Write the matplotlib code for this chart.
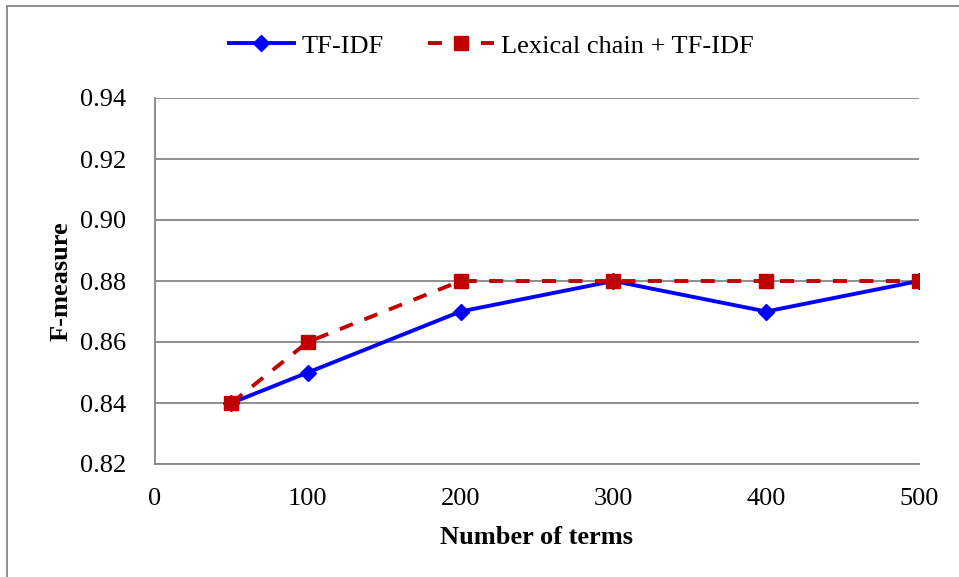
import matplotlib
matplotlib.use("Agg")
import matplotlib.pyplot as plt
from matplotlib.lines import Line2D

plt.rcParams['font.family'] = ['Liberation Serif', 'DejaVu Serif']

terms = [50, 100, 200, 300, 400, 500]
tfidf = [0.84, 0.85, 0.87, 0.88, 0.87, 0.88]
lexical = [0.84, 0.86, 0.88, 0.88, 0.88, 0.88]
xticks = [0, 100, 200, 300, 400, 500]
yticks = [0.82, 0.84, 0.86, 0.88, 0.90, 0.92, 0.94]

fig = plt.figure(figsize=(9.59, 5.77), dpi=100)
ax = fig.add_axes([155/959, 1-464/577, (919-155)/959, (464-98)/577])

grid_c = '#868686'
ax.plot(terms, tfidf, color='#0000FF', lw=2.8, marker='D', ms=8, label='TF-IDF', zorder=3)
ax.plot(terms, lexical, color='#C00000', lw=2.8, ls=(0, (3.6, 3.2)), marker='s', ms=10,
        label='Lexical chain + TF-IDF', zorder=4)

ax.set_xlim(0, 500)
ax.set_ylim(0.82, 0.94)
ax.set_xticks(xticks)
ax.set_yticks(yticks)
ax.set_xticklabels([str(v) for v in xticks])
ax.set_yticklabels([f'{v:.2f}' for v in yticks])
ax.tick_params(length=0, labelsize=19)
ax.tick_params(axis='x', pad=17)
ax.tick_params(axis='y', pad=21)
ax.grid(axis='y', color=grid_c, lw=1.3)
ax.set_axisbelow(True)
for s in ['top', 'right']:
    ax.spines[s].set_visible(False)
for s in ['left', 'bottom']:
    ax.spines[s].set_color(grid_c)
    ax.spines[s].set_linewidth(1.3)

ax.set_xlabel('Number of terms', fontsize=19, fontweight='bold', labelpad=12)
ax.set_ylabel('F-measure', fontsize=19, fontweight='bold', labelpad=5)

leg = fig.legend(loc='center', bbox_to_anchor=(0.512, 1-46/577), ncol=2, frameon=False,
                 fontsize=19, handlelength=2.5, columnspacing=1.7, handletextpad=0.25)

# outer frame
fig.add_artist(Line2D([7/959, 7/959], [0, 1-6/577], color=grid_c, lw=1.3))
fig.add_artist(Line2D([7/959, 1], [1-6/577, 1-6/577], color=grid_c, lw=1.3))

fig.savefig('out.png', dpi=100)
